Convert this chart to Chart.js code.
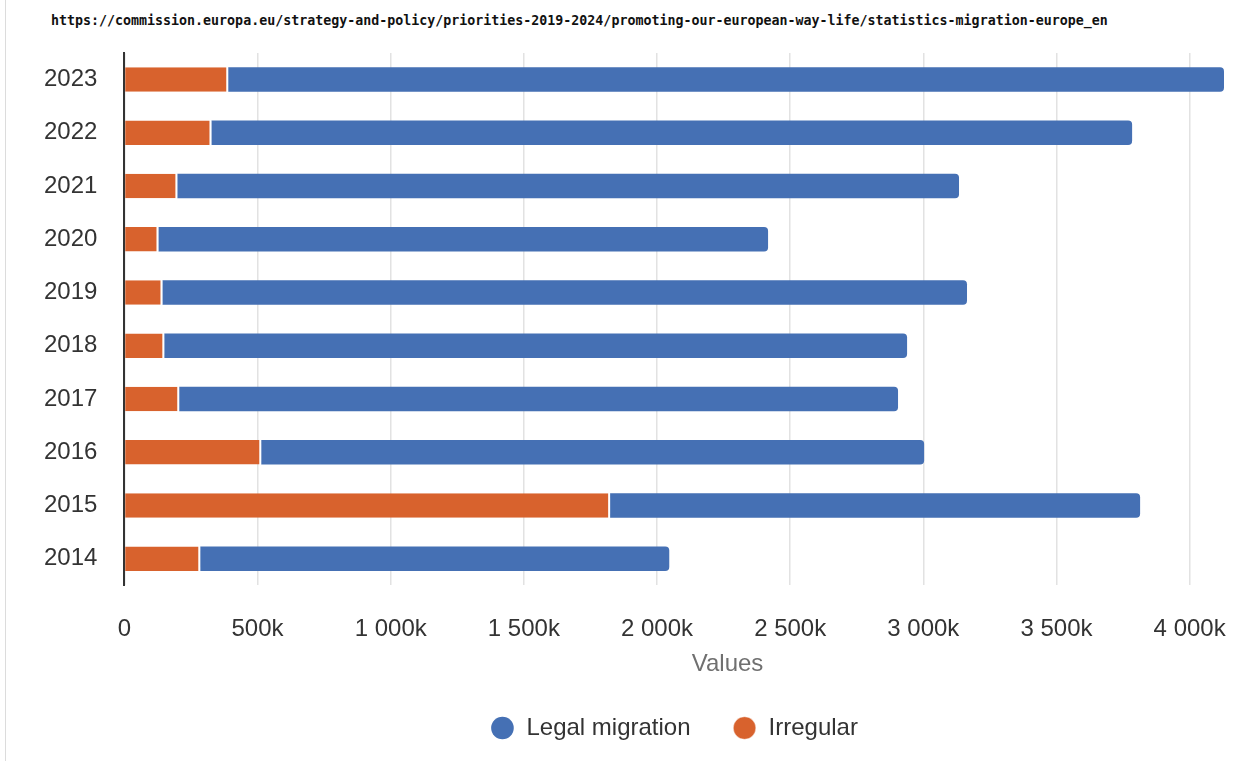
<!DOCTYPE html>
<html>
<head>
    <title>Migration to the EU</title>
    <script src="https://cdn.jsdelivr.net/npm/chart.js"></script>
    <style>
        body { margin: 0; background: #fff; }
        #frame { position: absolute; left: 5px; top: 0; width: 1229px; height: 761px; border-left: 1px solid #dcdcdc; }
        #source { position: absolute; left: 45px; top: 13px; font: bold 13.3px "DejaVu Sans Mono", monospace; color: #111; white-space: nowrap; }
        #wrap { position: absolute; left: 0; top: 0; width: 1228px; height: 761px; }
    </style>
</head>
<body>
<div id="frame">
    <div id="source">https://commission.europa.eu/strategy-and-policy/priorities-2019-2024/promoting-our-european-way-life/statistics-migration-europe_en</div>
    <div id="wrap"><canvas id="plot"></canvas></div>
</div>

<script>
    // values
    const years = ['2023', '2022', '2021', '2020', '2019', '2018', '2017', '2016', '2015', '2014'];
    const irregular = [390000, 327000, 199000, 128000, 143000, 150000, 206000, 514000, 1824000, 285000];
    const legal = [3739000, 3457000, 2935000, 2289000, 3021000, 2789000, 2699000, 2489000, 1990000, 1761000];
    const xTicks = [0, 500000, 1000000, 1500000, 2000000, 2500000, 3000000, 3500000, 4000000];
    const xMax = 4129000;

    const fmt = v => v === 0 ? '0' : (v / 1000).toString().replace(/\B(?=(\d{3})+(?!\d))/g, ' ') + 'k';
    const font = { family: 'Arial, "Liberation Sans"', size: 24 };

    const ctx = document.getElementById('plot').getContext('2d');
    new Chart(ctx, {
        type: 'bar',
        data: {
            labels: years,
            datasets: [{
                label: 'Irregular',
                data: irregular,
                backgroundColor: '#d8622d',
                borderColor: '#ffffff',
                borderWidth: { right: 2 },
                borderSkipped: false,
                barPercentage: 0.46,
                categoryPercentage: 1
            }, {
                label: 'Legal migration',
                data: legal,
                backgroundColor: '#4570b4',
                borderRadius: 4,
                barPercentage: 0.46,
                categoryPercentage: 1
            }]
        },
        options: {
            indexAxis: 'y',
            responsive: true,
            maintainAspectRatio: false,
            animation: false,
            layout: { padding: { left: 11, top: 53, right: 10, bottom: 11 } },
            scales: {
                x: {
                    stacked: true,
                    min: 0,
                    max: xMax,
                    afterBuildTicks: s => { s.ticks = xTicks.map(v => ({ value: v })); },
                    // last label sits inside the plot, so no extra room on the right
                    afterFit: s => { s.paddingRight = 0; },
                    ticks: {
                        callback: v => fmt(v),
                        color: '#333',
                        font: font,
                        padding: 30,
                        maxRotation: 0,
                        autoSkip: false
                    },
                    grid: { color: '#e2e2e2', lineWidth: 1.5, drawTicks: false },
                    border: { display: false },
                    title: {
                        display: true,
                        text: '                Values',
                        color: '#707070',
                        font: font,
                        padding: { top: -24, bottom: -5 }
                    }
                },
                y: {
                    stacked: true,
                    ticks: { color: '#333', font: font, padding: 27 },
                    grid: { display: false, drawTicks: false },
                    border: { display: true, color: '#333', width: 2 }
                }
            },
            plugins: {
                legend: {
                    position: 'bottom',
                    reverse: true,
                    fullSize: false,
                    labels: {
                        usePointStyle: true,
                        pointStyle: 'circle',
                        boxWidth: 24,
                        boxHeight: 16,
                        padding: 42,
                        color: '#333',
                        font: font
                    }
                },
                tooltip: { enabled: false }
            }
        }
    });
</script>
</body>
</html>
